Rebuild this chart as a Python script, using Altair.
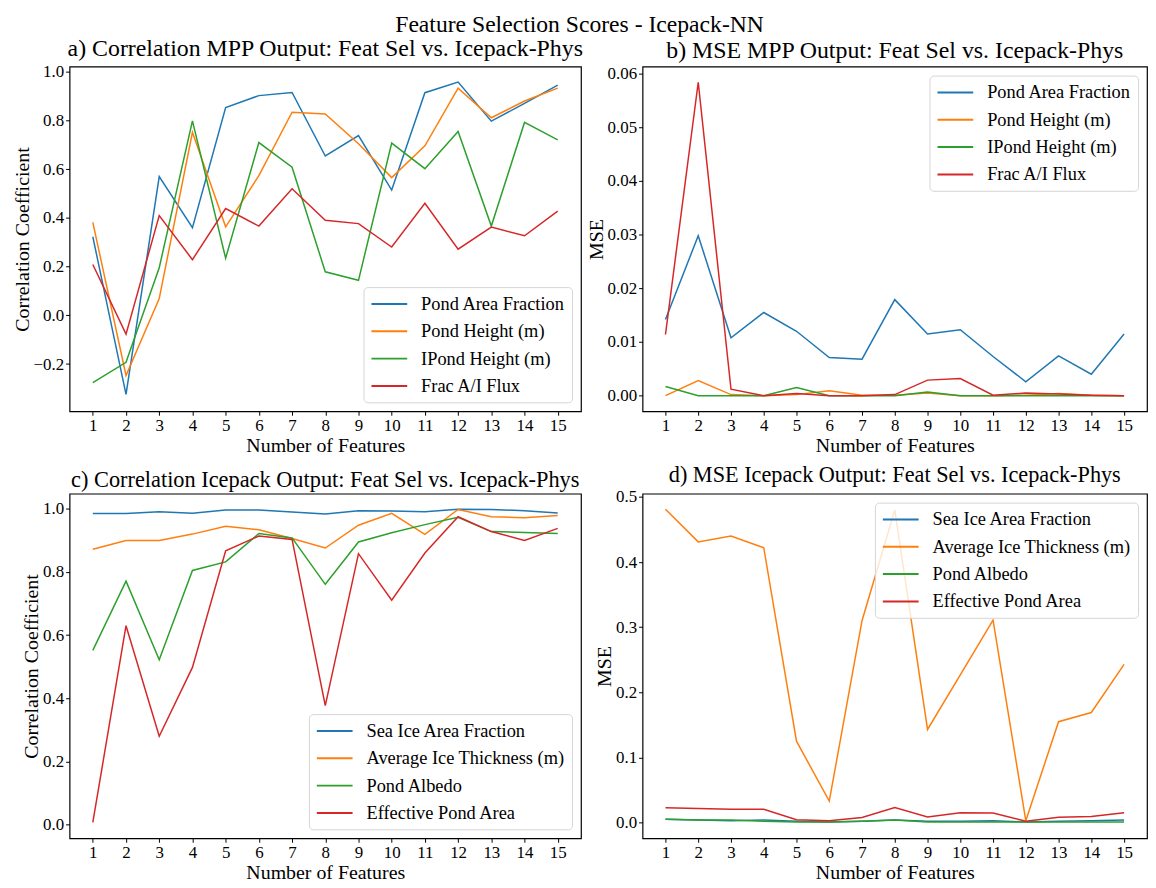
import altair as alt
import pandas as pd

FONT = "Liberation Serif"
features = list(range(1, 16))
colors = ["#1f77b4", "#ff7f0e", "#2ca02c", "#d62728"]

# a) Correlation MPP output
names_mpp = ["Pond Area Fraction", "Pond Height (m)", "IPond Height (m)", "Frac A/I Flux"]
corr_mpp_area = [0.323, -0.325, 0.570, 0.360, 0.854, 0.903, 0.916, 0.655, 0.739, 0.515, 0.915, 0.959, 0.798, 0.871, 0.946]
corr_mpp_height = [0.382, -0.247, 0.069, 0.752, 0.364, 0.574, 0.835, 0.828, 0.705, 0.566, 0.697, 0.934, 0.812, 0.881, 0.934]
corr_mpp_ipond = [-0.276, -0.193, 0.196, 0.799, 0.235, 0.710, 0.609, 0.179, 0.144, 0.708, 0.603, 0.756, 0.367, 0.793, 0.721]
corr_mpp_flux = [0.209, -0.077, 0.410, 0.229, 0.439, 0.367, 0.520, 0.391, 0.377, 0.281, 0.461, 0.272, 0.363, 0.327, 0.428]

# b) MSE MPP output
mse_mpp_area = [0.0142, 0.0298, 0.0108, 0.0155, 0.0120, 0.0071, 0.0068, 0.0179, 0.0115, 0.0123, 0.0073, 0.0026, 0.0074, 0.0040, 0.0115]
mse_mpp_height = [0.0000, 0.0028, 0.0002, 0.0000, 0.0002, 0.0009, 0.0001, 0.0001, 0.0005, 0.0000, 0.0000, 0.0001, 0.0004, 0.0001, 0.0000]
mse_mpp_ipond = [0.0017, 0.0000, 0.0000, 0.0000, 0.0015, 0.0000, 0.0000, 0.0000, 0.0007, 0.0000, 0.0000, 0.0000, 0.0000, 0.0000, 0.0000]
mse_mpp_flux = [0.0114, 0.0584, 0.0012, 0.0000, 0.0004, 0.0000, 0.0000, 0.0002, 0.0029, 0.0032, 0.0001, 0.0005, 0.0003, 0.0001, 0.0000]

# c) Correlation Icepack output
names_ice = ["Sea Ice Area Fraction", "Average Ice Thickness (m)", "Pond Albedo", "Effective Pond Area"]
corr_ice_area = [0.985, 0.985, 0.991, 0.986, 0.996, 0.996, 0.990, 0.984, 0.994, 0.993, 0.991, 0.999, 0.998, 0.994, 0.987]
corr_ice_thick = [0.872, 0.900, 0.900, 0.920, 0.945, 0.934, 0.906, 0.876, 0.948, 0.986, 0.919, 0.998, 0.975, 0.972, 0.979]
corr_ice_albedo = [0.552, 0.771, 0.522, 0.805, 0.832, 0.922, 0.908, 0.761, 0.895, 0.924, 0.950, 0.973, 0.928, 0.925, 0.922]
corr_ice_pond = [0.007, 0.630, 0.280, 0.498, 0.867, 0.914, 0.903, 0.377, 0.858, 0.711, 0.860, 0.975, 0.928, 0.900, 0.938]

# d) MSE Icepack output
mse_ice_area = [0.005, 0.004, 0.003, 0.004, 0.002, 0.001, 0.002, 0.004, 0.002, 0.002, 0.003, 0.001, 0.002, 0.003, 0.004]
mse_ice_thick = [0.481, 0.431, 0.440, 0.422, 0.125, 0.033, 0.310, 0.480, 0.143, 0.227, 0.311, 0.003, 0.155, 0.169, 0.243]
mse_ice_albedo = [0.005, 0.004, 0.004, 0.002, 0.001, 0.001, 0.002, 0.004, 0.001, 0.001, 0.001, 0.001, 0.001, 0.001, 0.001]
mse_ice_pond = [0.023, 0.0216, 0.0206, 0.0206, 0.0044, 0.003, 0.0079, 0.023, 0.0088, 0.0152, 0.0147, 0.002, 0.0083, 0.0093, 0.0152]

W1, W2, H = 515, 508, 347


def panel(title, tsize, names, series, ytitle, ydomain, yticks, yfmt, orient, width):
    rows = []
    for name, vals in zip(names, series):
        for f, v in zip(features, vals):
            rows.append({"feat": f, "val": v, "series": name})
    df = pd.DataFrame(rows)
    return alt.Chart(df, title=alt.TitleParams(
        title, font=FONT, fontSize=tsize, fontWeight="normal", color="black", offset=2
    )).mark_line(strokeWidth=1.5).encode(
        x=alt.X("feat:Q", scale=alt.Scale(domain=[0.3, 15.7], nice=False, zero=False),
                axis=alt.Axis(values=features, format="d", title="Number of Features",
                              titlePadding=3)),
        y=alt.Y("val:Q", scale=alt.Scale(domain=ydomain, nice=False, zero=False),
                axis=alt.Axis(values=yticks, format=yfmt, title=ytitle, titlePadding=1)),
        color=alt.Color("series:N", sort=names,
                        scale=alt.Scale(domain=names, range=colors),
                        legend=alt.Legend(
                            title=None, orient=orient, offset=9,
                            strokeColor="#d5d5d5", fillColor="rgba(255,255,255,0.8)",
                            cornerRadius=4, padding=7,
                            symbolType="M-1,0H3", symbolSize=324, symbolStrokeWidth=2,
                            labelFont=FONT, labelFontSize=18.5, labelColor="black",
                            labelOffset=31, rowPadding=7.5, labelLimit=400)),
    ).properties(width=width, height=H)


a = panel("a) Correlation MPP Output: Feat Sel vs. Icepack-Phys", 24, names_mpp,
          [corr_mpp_area, corr_mpp_height, corr_mpp_ipond, corr_mpp_flux],
          "Correlation Coefficient", [-0.394, 1.022], [-0.2, 0.0, 0.2, 0.4, 0.6, 0.8, 1.0], ".1f",
          "bottom-right", W1)
b = panel("b) MSE MPP Output: Feat Sel vs. Icepack-Phys", 24, names_mpp,
          [mse_mpp_area, mse_mpp_height, mse_mpp_ipond, mse_mpp_flux],
          "MSE", [-0.0029, 0.0613], [0.0, 0.01, 0.02, 0.03, 0.04, 0.05, 0.06], ".2f",
          "top-right", W2)
c = panel("c) Correlation Icepack Output: Feat Sel vs. Icepack-Phys", 22.5, names_ice,
          [corr_ice_area, corr_ice_thick, corr_ice_albedo, corr_ice_pond],
          "Correlation Coefficient", [-0.043, 1.048], [0.0, 0.2, 0.4, 0.6, 0.8, 1.0], ".1f",
          "bottom-right", W1)
d = panel("d) MSE Icepack Output: Feat Sel vs. Icepack-Phys", 22.4, names_ice,
          [mse_ice_area, mse_ice_thick, mse_ice_albedo, mse_ice_pond],
          "MSE", [-0.024, 0.505], [0.0, 0.1, 0.2, 0.3, 0.4, 0.5], ".1f",
          "top-right", W2)

chart = alt.concat(a, b, c, d, columns=2, spacing={"row": 6, "column": 0}).resolve_scale(
    color="independent", x="independent", y="independent"
).resolve_legend(color="independent").properties(
    title=alt.TitleParams("Feature Selection Scores - Icepack-NN", font=FONT, fontSize=23.8,
                          fontWeight="normal", color="black", anchor="middle", offset=0),
    padding={"left": 3, "top": 1, "right": 0, "bottom": 0},
    background="white",
).configure_view(
    stroke="black", strokeWidth=1.2
).configure_axis(
    domain=False, grid=False, ticks=True, tickColor="black", tickSize=4, tickWidth=1,
    labelFont=FONT, labelFontSize=17, labelColor="black", labelPadding=2,
    titleFont=FONT, titleFontSize=20, titleFontWeight="normal", titleColor="black",
)

chart.save("out.html", embed_options={"renderer": "svg", "actions": False})
